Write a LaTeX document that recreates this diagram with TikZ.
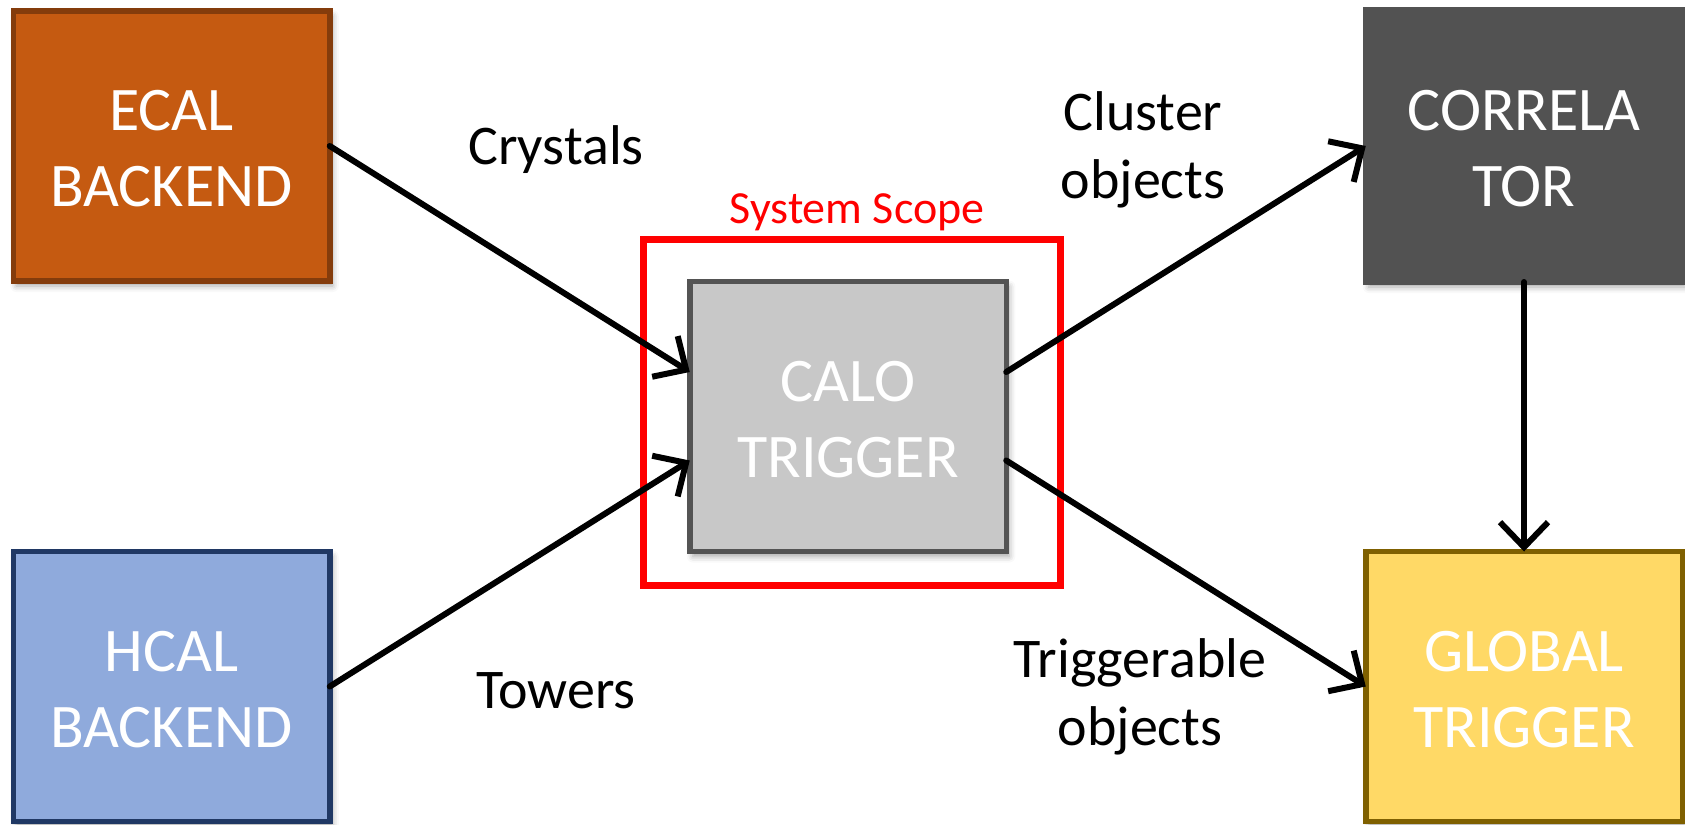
\documentclass[tikz,border=0pt]{standalone}
\usepackage{fontspec}
\setmainfont{Carlito}
\usetikzlibrary{arrows.meta,shadows.blur}
\definecolor{ecalfill}{HTML}{C55A11}
\definecolor{ecalline}{HTML}{843C0C}
\definecolor{hcalfill}{HTML}{8FAADC}
\definecolor{hcalline}{HTML}{203864}
\definecolor{calofill}{HTML}{C8C8C8}
\definecolor{caloline}{HTML}{545454}
\definecolor{corrfill}{HTML}{525252}
\definecolor{globfill}{HTML}{FFD966}
\definecolor{globline}{HTML}{7F6000}
\newcommand{\topstrut}{\rule{0pt}{46pt}}
\begin{document}
\begin{tikzpicture}[x=1pt,y=-1pt,
  box/.style={draw, line width=5.5pt, rectangle, outer sep=0pt, inner sep=0pt,
    text=white, align=center, font=\fontsize{62}{76}\selectfont,
    minimum width=316.5pt, minimum height=270pt,
    blur shadow={shadow xshift=3pt, shadow yshift=-5pt, shadow blur radius=6pt, shadow opacity=35}},
  lbl/.style={font=\fontsize{56}{68}\selectfont, align=center, text=black},
  conn/.style={line width=6pt, line cap=round, -{Straight Barb[length=25pt,width=48pt]}},
]
\useasboundingbox (0,0) rectangle (1685,824);
\node[draw=red, line width=7pt, minimum width=417pt, minimum height=346pt, inner sep=0pt, outer sep=0pt] (scope) at (852,412.5) {};
\node[font=\fontsize{46}{55}\selectfont, text=red, anchor=base] (scopelbl) at (857,223) {System Scope};

\node[box, fill=ecalfill, draw=ecalline] (ecal) at (171.5,146) {\topstrut ECAL\\BACKEND};
\node[box, fill=hcalfill, draw=hcalline] (hcal) at (171.5,686.5) {\topstrut HCAL\\BACKEND};
\node[box, fill=calofill, draw=caloline] (calo) at (848,416.5) {\topstrut CALO\\TRIGGER};
\node[box, fill=corrfill, draw=corrfill, minimum height=272pt] (corr) at (1524,146) {\topstrut CORRELA\\TOR};
\node[box, fill=globfill, draw=globline] (glob) at (1524,686.5) {\topstrut GLOBAL\\TRIGGER};

\draw[conn] (ecal.east) -- ([yshift=44.5pt]calo.west);
\draw[conn] (hcal.east) -- ([yshift=-44pt]calo.west);
\draw[conn] ([yshift=44.5pt]calo.east) -- (corr.west);
\draw[conn] ([yshift=-44pt]calo.east) -- (glob.west);
\draw[conn] (corr.south) -- (glob.north);

\node[lbl, anchor=base] (crys) at (556,164) {Crystals};
\node[lbl, anchor=base] (tow) at (556,708) {Towers};
\node[lbl, anchor=base] (clus) at (1143,198) {Cluster\\objects};
\node[lbl, anchor=base] (trig) at (1140,745) {Triggerable\\objects};
\end{tikzpicture}
\end{document}
